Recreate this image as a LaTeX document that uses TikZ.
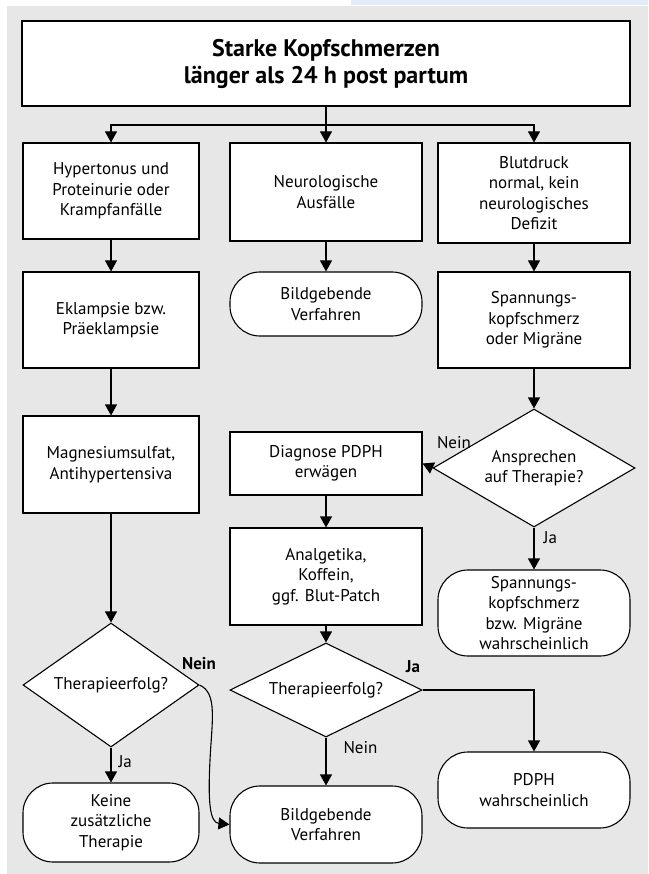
\documentclass[tikz,border=0pt]{standalone}
\usepackage{fontspec}
\setmainfont{PT Sans}
\usetikzlibrary{shapes.geometric, arrows.meta}

\definecolor{bggray}{HTML}{E7E7E7}
\definecolor{tabblue}{HTML}{E3EBF8}

\tikzstyle{box} = [rectangle, draw=black, fill=white, line width=1.1pt, inner sep=0pt, align=center, font=\fontsize{17}{20.5}\selectfont]
\tikzstyle{term} = [box, rounded corners=30pt]
\tikzstyle{dec} = [diamond, draw=black, fill=white, line width=1.1pt, inner sep=0pt, align=center, font=\fontsize{17}{20.5}\selectfont]
\tikzstyle{arr} = [line width=1.1pt, -{Triangle[width=12pt,length=11pt]}]
\tikzstyle{lbl} = [inner sep=0pt, font=\fontsize{17}{20.5}\selectfont]

\begin{document}
\begin{tikzpicture}[x=1pt,y=-1pt]

\useasboundingbox (0,0) rectangle (648,874);
\fill[tabblue] (351,0) rectangle (648,5);
\fill[bggray] (7,6) rectangle (648,874);

\node (title) [box, minimum width=608pt, minimum height=85pt, font=\fontsize{24}{27}\selectfont\bfseries] at (326,63.5) {Starke Kopfschmerzen\\länger als 24 h post partum};

% left column
\node (hyp) [box, minimum width=176pt, minimum height=96pt] at (111,191) {Hypertonus und\\Proteinurie oder\\Krampfanfälle};
\node (ekl) [box, minimum width=176pt, minimum height=96pt] at (111,320) {Eklampsie bzw.\\Präeklampsie};
\node (mag) [box, minimum width=176pt, minimum height=97pt] at (111,464.5) {Magnesiumsulfat,\\Antihypertensiva};
\node (erf1) [dec, aspect=1.42, minimum width=176pt, minimum height=124pt] at (111,685) {Therapieerfolg?};
\node (keine) [term, minimum width=176pt, minimum height=79pt] at (111,822.5) {Keine\\zusätzliche\\Therapie};

% middle column
\node (neuro) [box, minimum width=192pt, minimum height=98pt] at (326,192) {Neurologische\\Ausfälle};
\node (bild1) [term, minimum width=192pt, minimum height=64pt] at (326,304) {Bildgebende\\Verfahren};
\node (diag) [box, minimum width=192pt, minimum height=63pt] at (326,463.5) {Diagnose PDPH\\erwägen};
\node (analg) [box, minimum width=192pt, minimum height=97pt] at (326,576.5) {Analgetika,\\Koffein,\\ggf. Blut-Patch};
\node (erf2) [dec, aspect=2.04, minimum width=192pt, minimum height=94pt] at (326,690) {Therapieerfolg?};
\node (bild2) [term, minimum width=192pt, minimum height=77pt] at (326,824.5) {Bildgebende\\Verfahren};

% right column
\node (blut) [box, minimum width=192pt, minimum height=100pt] at (534,193) {Blutdruck\\normal, kein\\neurologisches\\Defizit};
\node (span) [box, minimum width=192pt, minimum height=96pt] at (534,320) {Spannungs-\\kopfschmerz\\oder Migräne};
\node (ansp) [dec, aspect=1.71, minimum width=202pt, minimum height=118pt] at (534,468) {Ansprechen\\auf Therapie?};
\node (spanw) [term, minimum width=192pt, minimum height=86pt] at (534,613) {Spannungs-\\kopfschmerz\\bzw. Migräne\\wahrscheinlich};
\node (pdph) [term, minimum width=192pt, minimum height=76pt] at (534,790) {PDPH\\wahrscheinlich};

\coordinate (split) at (326,125);
\coordinate (nbend) at (210,760);

\draw[arr] (title.south) -- (neuro.north);
\draw[arr] (split) -| (hyp.north);
\draw[arr] (split) -| (blut.north);

\draw[arr] (hyp) -- (ekl);
\draw[arr] (ekl) -- (mag);
\draw[arr] (mag) -- (erf1.north);
\draw[arr] (erf1.south) -- node[lbl, right=7pt, pos=0.4] {Ja} (keine.north);
\draw[arr] (erf1.east) .. controls +(18,8) and +(2,-40) .. (nbend) .. controls +(-2,40) and +(-20,-2) .. (bild2.west);

\draw[arr] (neuro) -- (bild1);
\draw[arr] (diag) -- (analg);
\draw[arr] (analg) -- (erf2.north);
\draw[arr] (erf2.south) -- node[lbl, right=17pt, pos=0.2] {Nein} (bild2.north);
\draw[arr] (erf2.east) -| (pdph.north);

\draw[arr] (blut) -- (span);
\draw[arr] (span) -- (ansp.north);
\draw[arr] (ansp.west) -- (diag.east);
\draw[arr] (ansp.south) -- node[lbl, right=9pt, pos=0.25] {Ja} (spanw.north);

\node[lbl, font=\fontsize{17}{20.5}\selectfont\bfseries] (nein1) at (199,664) {Nein};
\node[lbl, font=\fontsize{17}{20.5}\selectfont\bfseries] (ja2) at (413,667) {Ja};
\node[lbl] (nein3) at (454,443) {Nein};

\end{tikzpicture}
\end{document}
